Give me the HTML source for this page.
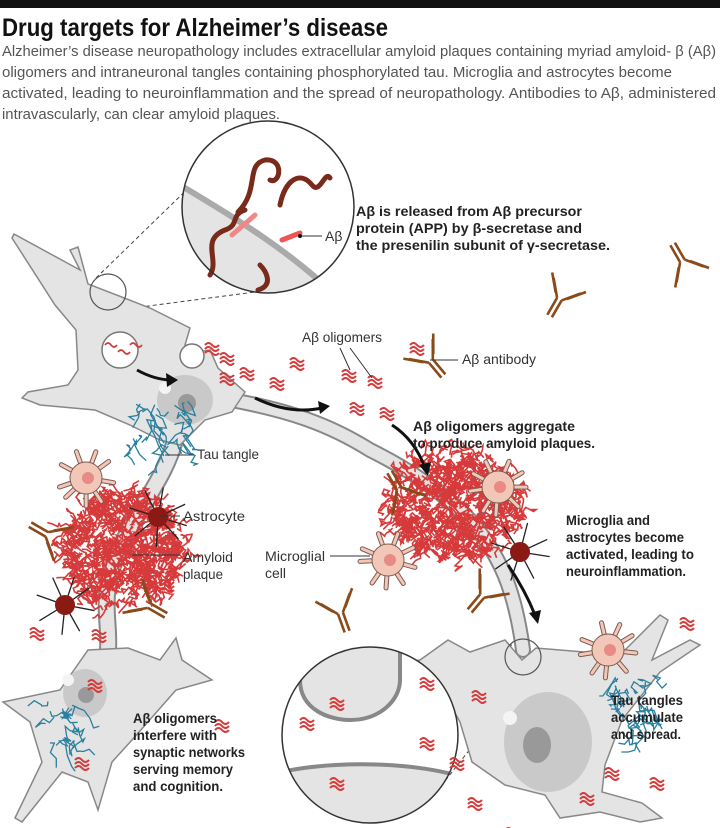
<!DOCTYPE html>
<html><head><meta charset="utf-8"><style>
html,body{margin:0;padding:0;background:#fff;}
svg{display:block;}
text{font-family:"Liberation Sans Narrow","Liberation Sans",sans-serif;}
.b{font-weight:bold;font-size:14px;fill:#222;}
.n{font-size:14px;fill:#333;}
</style></head><body>
<svg id="s" width="720" height="828" viewBox="0 0 720 828" xmlns="http://www.w3.org/2000/svg">
<rect x="0" y="0" width="720" height="8" fill="#111"/>
<text x="2" y="36" font-size="25" font-weight="bold" fill="#111" textLength="386" lengthAdjust="spacingAndGlyphs">Drug targets for Alzheimer’s disease</text>
<g font-size="15" fill="#555">
<text x="2" y="56" textLength="714" lengthAdjust="spacingAndGlyphs">Alzheimer’s disease neuropathology includes extracellular amyloid plaques containing myriad amyloid- β (Aβ)</text>
<text x="2" y="77" textLength="670" lengthAdjust="spacingAndGlyphs">oligomers and intraneuronal tangles containing phosphorylated tau. Microglia and astrocytes become</text>
<text x="2" y="98" textLength="714" lengthAdjust="spacingAndGlyphs">activated, leading to neuroinflammation and the spread of neuropathology. Antibodies to Aβ, administered</text>
<text x="2" y="119" textLength="278" lengthAdjust="spacingAndGlyphs">intravascularly, can clear amyloid plaques.</text>
</g>

<g stroke="#444" stroke-dasharray="4,3" fill="none" stroke-width="1">
<line x1="96" y1="278" x2="205" y2="172"/><line x1="118" y1="310" x2="255" y2="292"/>
<line x1="512" y1="645" x2="300" y2="690"/><line x1="530" y1="673" x2="430" y2="800"/>
</g>

<g fill="none" stroke-linecap="round">
<path d="M220,398 C290,410 330,425 370,450 C410,470 440,490 470,520 C500,555 515,590 523,650" stroke="#888" stroke-width="16"/>
<path d="M220,398 C290,410 330,425 370,450 C410,470 440,490 470,520 C500,555 515,590 523,650" stroke="#e4e4e4" stroke-width="12"/>
<path d="M175,440 C165,480 135,510 115,560 C100,600 110,620 108,650" stroke="#888" stroke-width="18"/>
<path d="M175,440 C165,480 135,510 115,560 C100,600 110,620 108,650" stroke="#e4e4e4" stroke-width="14"/>
</g>

<path d="M12,238 L14,234 L80,270 L70,250 L78,247 L88,284 L150,308 L190,328 L185,345 L198,352 L210,350 L218,368 L245,392 L232,412 L205,420 L180,445 L160,440 L130,425 L95,410 L40,405 L22,398 L28,392 L68,385 L78,370 L76,330 L55,305 Z" fill="#e4e4e4" stroke="#888" stroke-width="1.5"/>
<ellipse cx="185" cy="400" rx="28" ry="25" fill="#c9c9c9"/><circle cx="187" cy="403" r="9" fill="#999"/><circle cx="165" cy="388" r="6" fill="#f4f4f4"/>
<circle cx="120" cy="350" r="18" fill="#fff" stroke="#777" stroke-width="1.5"/>
<circle cx="192" cy="356" r="12" fill="#fff" stroke="#777" stroke-width="1.5"/>

<path d="M3,702 L60,690 L88,650 L128,648 L160,660 L176,638 L182,660 L212,680 L176,690 L132,740 L112,762 L98,810 L88,782 L62,772 L22,822 L15,818 L42,762 L30,722 Z" fill="#e4e4e4" stroke="#888" stroke-width="1.5"/>
<ellipse cx="85" cy="693" rx="22" ry="24" fill="#c9c9c9"/><circle cx="86" cy="695" r="8" fill="#999"/><circle cx="68" cy="680" r="6" fill="#f4f4f4"/>

<path d="M378,668 L420,660 L448,640 L470,652 L505,640 L522,660 L536,648 L560,650 L620,655 L660,615 L668,620 L652,660 L690,640 L700,645 L660,672 L622,720 L605,765 L602,792 L642,803 L662,818 L640,822 L600,812 L560,818 L545,795 L505,785 L472,762 L460,722 L448,700 L420,682 L380,675 Z" fill="#e4e4e4" stroke="#888" stroke-width="1.5"/>
<ellipse cx="548" cy="742" rx="44" ry="50" fill="#c9c9c9"/><ellipse cx="537" cy="745" rx="14" ry="18" fill="#999"/><circle cx="510" cy="718" r="7" fill="#f4f4f4"/>

<circle cx="108" cy="292" r="18" fill="none" stroke="#555" stroke-width="1.2"/>
<circle cx="523" cy="657" r="18" fill="none" stroke="#555" stroke-width="1.2"/>

<clipPath id="c1"><circle cx="268" cy="207" r="86"/></clipPath>
<circle cx="268" cy="207" r="86" fill="#fff"/>
<g clip-path="url(#c1)">
<path d="M180,185 C230,215 290,250 340,300 L180,300 Z" fill="#e4e4e4"/>
<path d="M180,185 C230,215 290,250 340,300" stroke="#aaa" stroke-width="6" fill="none"/>
</g>
<g fill="none" stroke="#7a2a1a" stroke-width="5" stroke-linecap="round">
<path d="M238,212 C260,190 245,165 265,160 C285,158 280,185 270,180"/>
<path d="M280,205 C285,180 300,170 312,185 C320,195 325,170 330,178"/>
<path d="M210,275 C220,260 200,240 225,230 C240,225 230,215 245,210"/>
<path d="M258,290 C275,285 265,270 260,265"/>
</g>
<path d="M232,235 L255,215" stroke="#e88" stroke-width="5" stroke-linecap="round"/>
<path d="M282,240 L300,233" stroke="#e55" stroke-width="5" stroke-linecap="round"/>
<circle cx="268" cy="207" r="86" fill="none" stroke="#333" stroke-width="1.5"/>
<line x1="300" y1="236" x2="322" y2="236" stroke="#333"/><circle cx="300" cy="236" r="2" fill="#111"/>
<text x="325" y="241" class="n">Aβ</text>

<clipPath id="c2"><circle cx="370" cy="735" r="88"/></clipPath>
<circle cx="370" cy="735" r="88" fill="#fff"/>
<g clip-path="url(#c2)">
<path d="M270,775 C320,760 420,760 470,780 L470,830 L270,830 Z" fill="#e4e4e4" stroke="#888" stroke-width="4"/>
<path d="M300,640 L300,680 C300,710 330,720 350,720 C380,720 400,700 400,680 L400,640 Z" fill="#e4e4e4" stroke="#888" stroke-width="4"/>
</g>
<circle cx="370" cy="735" r="88" fill="none" stroke="#333" stroke-width="1.5"/>

<g id="dyn"></g>

<g stroke="#111" stroke-width="3" fill="none">
<path d="M137,370 Q155,380 172,380"/><path d="M255,398 Q290,415 322,408"/>
<path d="M392,425 Q415,440 425,468"/><path d="M508,565 Q525,590 535,615"/>
</g>
<g fill="#111">
<path d="M178,380 L166,373 L167,387 Z"/><path d="M330,406 L318,401 L320,414 Z"/>
<path d="M428,476 L419,465 L431,462 Z"/><path d="M538,624 L529,613 L541,610 Z"/>
</g>

<g stroke="#333" stroke-width="1">
<line x1="340" y1="348" x2="350" y2="370"/><line x1="350" y1="348" x2="372" y2="378"/>
<line x1="430" y1="360" x2="458" y2="360"/>
<line x1="165" y1="455" x2="194" y2="455"/>
<line x1="160" y1="516" x2="180" y2="516"/>
<line x1="132" y1="555" x2="180" y2="555"/>
<line x1="330" y1="556" x2="370" y2="556"/>
</g>

<text x="356" y="216" class="b" textLength="226" lengthAdjust="spacingAndGlyphs">Aβ is released from Aβ precursor</text>
<text x="356" y="233" class="b" textLength="226" lengthAdjust="spacingAndGlyphs">protein (APP) by β-secretase and</text>
<text x="356" y="250" class="b" textLength="254" lengthAdjust="spacingAndGlyphs">the presenilin subunit of γ-secretase.</text>
<text x="302" y="342" class="n" textLength="80" lengthAdjust="spacingAndGlyphs">Aβ oligomers</text>
<text x="462" y="364" class="n" textLength="74" lengthAdjust="spacingAndGlyphs">Aβ antibody</text>
<text x="413" y="431" class="b" textLength="162" lengthAdjust="spacingAndGlyphs">Aβ oligomers aggregate</text>
<text x="413" y="448" class="b" textLength="182" lengthAdjust="spacingAndGlyphs">to produce amyloid plaques.</text>
<text x="197" y="459" class="n" textLength="62" lengthAdjust="spacingAndGlyphs">Tau tangle</text>
<text x="183" y="521" class="n" textLength="62" lengthAdjust="spacingAndGlyphs">Astrocyte</text>
<text x="183" y="562" class="n" textLength="50" lengthAdjust="spacingAndGlyphs">Amyloid</text>
<text x="183" y="579" class="n" textLength="40" lengthAdjust="spacingAndGlyphs">plaque</text>
<text x="265" y="561" class="n" textLength="60" lengthAdjust="spacingAndGlyphs">Microglial</text>
<text x="265" y="578" class="n">cell</text>
<text x="566" y="525" class="b" textLength="84" lengthAdjust="spacingAndGlyphs">Microglia and</text>
<text x="566" y="542" class="b" textLength="118" lengthAdjust="spacingAndGlyphs">astrocytes become</text>
<text x="566" y="559" class="b" textLength="128" lengthAdjust="spacingAndGlyphs">activated, leading to</text>
<text x="566" y="576" class="b" textLength="120" lengthAdjust="spacingAndGlyphs">neuroinflammation.</text>
<text x="611" y="705" class="b" textLength="72" lengthAdjust="spacingAndGlyphs">Tau tangles</text>
<text x="611" y="722" class="b" textLength="72" lengthAdjust="spacingAndGlyphs">accumulate</text>
<text x="611" y="739" class="b" textLength="70" lengthAdjust="spacingAndGlyphs">and spread.</text>
<text x="133" y="723" class="b" textLength="84" lengthAdjust="spacingAndGlyphs">Aβ oligomers</text>
<text x="133" y="740" class="b" textLength="84" lengthAdjust="spacingAndGlyphs">interfere with</text>
<text x="133" y="757" class="b" textLength="112" lengthAdjust="spacingAndGlyphs">synaptic networks</text>
<text x="133" y="774" class="b" textLength="100" lengthAdjust="spacingAndGlyphs">serving memory</text>
<text x="133" y="791" class="b" textLength="90" lengthAdjust="spacingAndGlyphs">and cognition.</text>
</svg>
<script>
(function(){
var g=document.getElementById('dyn'),NS='http://www.w3.org/2000/svg';
var seed=7;function r(){seed=(seed*16807)%2147483647;return seed/2147483647;}
function el(t,a){var e=document.createElementNS(NS,t);for(var k in a)e.setAttribute(k,a[k]);g.appendChild(e);return e;}
function tau(cx,cy,w,h,n){for(var i=0;i<n;i++){var x=cx+(r()-.5)*w,y=cy+(r()-.5)*h,d='M'+x+','+y;
for(var j=0;j<5;j++){x+=(r()-.5)*16;y+=(r()-.3)*16;d+=' L'+x.toFixed(1)+','+y.toFixed(1);}
el('path',{d:d,stroke:'#2a7f9e','stroke-width':1.3,fill:'none'});}}
tau(160,425,60,50,26);tau(60,725,40,50,16);tau(635,705,50,60,24);
function plaque(cx,cy,rx,ry,n){for(var i=0;i<n;i++){var a=r()*6.283,rr=Math.sqrt(r());var x=cx+Math.cos(a)*rx*rr,y=cy+Math.sin(a)*ry*rr,d='M'+x.toFixed(1)+','+y.toFixed(1);
for(var j=0;j<6;j++){x+=(r()-.5)*12;y+=(r()-.5)*12;d+=' L'+x.toFixed(1)+','+y.toFixed(1);}
el('path',{d:d,stroke:'#d63a3a','stroke-width':1.6,fill:'none'});}}
plaque(122,548,62,58,480);plaque(455,505,70,54,480);
function micro(cx,cy,s){for(var i=0;i<9;i++){var a=i*0.7+r()*.3,x2=cx+Math.cos(a)*28*s,y2=cy+Math.sin(a)*28*s;
el('line',{x1:cx,y1:cy,x2:x2,y2:y2,stroke:'#7a5a50','stroke-width':5*s,'stroke-linecap':'round'});
el('line',{x1:cx,y1:cy,x2:x2,y2:y2,stroke:'#f3c7b8','stroke-width':3*s,'stroke-linecap':'round'});}
el('circle',{cx:cx,cy:cy,r:16*s,fill:'#f3c7b8',stroke:'#7a5a50'});el('circle',{cx:cx+2,cy:cy,r:6*s,fill:'#e88a85'});}
micro(86,478,1);micro(498,487,1);micro(388,560,1);micro(608,650,1);
function astro(cx,cy){for(var i=0;i<8;i++){var a=i*0.8+r()*.3;el('line',{x1:cx,y1:cy,x2:cx+Math.cos(a)*30,y2:cy+Math.sin(a)*30,stroke:'#222','stroke-width':1.3});}
el('circle',{cx:cx,cy:cy,r:10,fill:'#8b1a14'});}
astro(158,517);astro(65,605);astro(520,552);
function ab(x,y,rot){var gg=document.createElementNS(NS,'g');gg.setAttribute('transform','translate('+x+','+y+') rotate('+rot+') scale(1.3)');
gg.innerHTML='<path d="M-2,16 L-2,1 M2,16 L2,1 M-2,1 L-12,-11 M2,1 L12,-11 M-5,-2 L-15,-14 M5,-2 L15,-14" stroke="#8b4a1a" stroke-width="2" fill="none"/>';g.appendChild(gg);}
[[683,262,150],[560,298,30],[430,360,-40],[400,490,150],[48,535,120],[148,605,-60],[340,612,-20],[483,595,40]].forEach(function(a){ab(a[0],a[1],a[2]);});
function olig(x,y){for(var k=0;k<3;k++){el('path',{d:'M'+x+','+(y+k*4)+' q3.5,-4 7,0 t7,0',stroke:'#d63a3a','stroke-width':2,fill:'none'});}}
[[342,372],[368,378],[410,345],[380,410],[350,405],[290,360],[270,380],[220,375],[220,355],[205,345],[240,370],[30,630],[92,632],[88,682],[160,582],[75,760],[215,722],[330,700],[330,780],[420,740],[450,760],[472,693],[468,800],[505,830],[605,770],[650,780],[680,620],[580,795],[420,680],[300,720]].forEach(function(p){olig(p[0],p[1]);});
[[105,345],[118,352],[130,345]].forEach(function(p){el('path',{d:'M'+p[0]+','+p[1]+' q3,-4 6,0 t6,0',stroke:'#d63a3a','stroke-width':1.8,fill:'none'});});
})();
</script>
</body></html>
